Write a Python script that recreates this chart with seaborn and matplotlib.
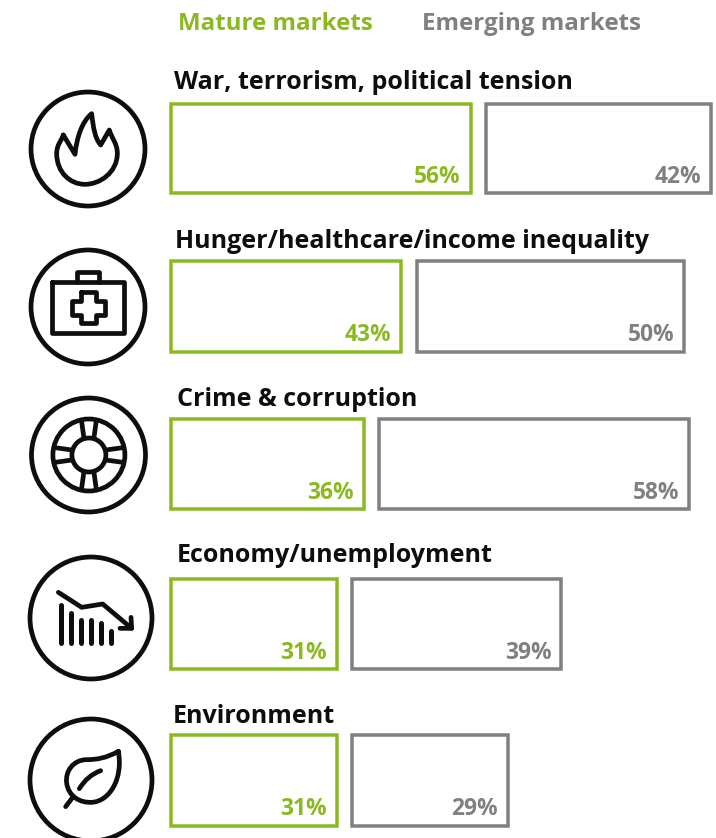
import matplotlib
matplotlib.use("Agg")
import matplotlib.pyplot as plt
from matplotlib.path import Path
from matplotlib.patches import PathPatch, Circle
import numpy as np
import seaborn as sns

categories = ["War, terrorism, political tension", "Hunger/healthcare/income inequality",
              "Crime & corruption", "Economy/unemployment", "Environment"]
mature = [56, 43, 36, 31, 31]
emerging = [42, 50, 58, 39, 29]
series_names = ["Mature markets", "Emerging markets"]

GREEN = "#8ab922"
GRAY = "#808080"
INK = "#0e0e0c"
W, H = 716, 838
PX_PER_PCT = 5.35
GAP = 2.9

sns.set_theme(style="white")
plt.rcParams["font.family"] = ["Open Sans", "DejaVu Sans"]
fig = plt.figure(figsize=(W / 100, H / 100), dpi=100, facecolor="white")

row_tops = [103.7, 261, 418.7, 578.5, 735]
row_bottoms = [193.5, 351.7, 509, 669, 825.7]
title_x = [174, 175, 177, 177, 173]
title_base = [89, 248, 406, 562, 723]
LEFT = 171
pt = 0.72
BAR_LW = 3.5 * pt
LABEL_DX = -9.7 * pt
LABEL_DY = 10.3 * pt

for i, cat in enumerate(categories):
    ax = fig.add_axes([LEFT / W, 1 - row_bottoms[i] / H, (W - LEFT) / W,
                       (row_bottoms[i] - row_tops[i]) / H])
    left = mature[i] + GAP
    sns.barplot(x=[mature[i]], y=[cat], ax=ax, width=1, fill=False, color=GREEN, linewidth=BAR_LW,
                clip_on=False, err_kws={"linewidth": 0})
    for p in ax.patches:
        p.set_edgecolor(GREEN)
    n = len(ax.patches)
    sns.barplot(x=[emerging[i]], y=[cat], ax=ax, width=1, fill=False, color=GRAY,
                linewidth=BAR_LW, clip_on=False, left=left, err_kws={"linewidth": 0})
    for p in ax.patches[n:]:
        p.set_edgecolor(GRAY)
    ax.set_xlim(0, (W - LEFT) / PX_PER_PCT)
    ax.set_ylim(0.5, -0.5)
    ax.axis("off")
    ax.patch.set_alpha(0)
    ax.annotate(f"{mature[i]}%", (mature[i], 0.5), xytext=(LABEL_DX, LABEL_DY),
                textcoords="offset points", ha="right", va="baseline",
                color=GREEN, fontsize=16.4, fontweight="bold")
    ax.annotate(f"{emerging[i]}%", (left + emerging[i], 0.5),
                xytext=(LABEL_DX, LABEL_DY), textcoords="offset points", ha="right",
                va="baseline", color=GRAY, fontsize=16.4, fontweight="bold")

ov = fig.add_axes([0, 0, 1, 1])
ov.set_xlim(0, W)
ov.set_ylim(H, 0)
ov.axis("off")
ov.patch.set_alpha(0)

ov.text(178, 30.5, series_names[0], color=GREEN, fontsize=17.35, fontweight="bold", va="baseline")
ov.text(422, 30.5, series_names[1], color=GRAY, fontsize=17.35, fontweight="bold", va="baseline")
for i, cat in enumerate(categories):
    ov.text(title_x[i], title_base[i], cat, color=INK, fontsize=18, fontweight="bold", va="baseline")

LW = 3.4


def stroke(origin, verts, codes=None, lw=LW, close=False):
    """Draw an icon stroke given in crop coordinates (3x) from an origin."""
    v = [(origin[0] + x / 3, origin[1] + y / 3) for x, y in verts]
    if codes is None:
        codes = [Path.MOVETO] + [Path.LINETO] * (len(v) - 1)
    if close:
        v.append(v[0])
        codes = list(codes) + [Path.CLOSEPOLY]
    ov.add_patch(PathPatch(Path(v, codes), fill=False, edgecolor=INK, lw=lw,
                           capstyle="round", joinstyle="round"))


def bez(start, *segs):
    v, c = [start], [Path.MOVETO]
    for s in segs:
        if len(s) == 2:
            v.append(s)
            c.append(Path.LINETO)
        else:
            v += [s[:2], s[2:4], s[4:6]]
            c += [Path.CURVE4] * 3
    return v, c


for (cx, cy, r) in [(88, 149, 57), (88, 307, 57), (88.5, 455, 57), (91, 618, 61), (91, 780, 61)]:
    ov.add_patch(Circle((cx, cy), r, fill=False, edgecolor=INK, lw=LW))

# flame
o = (20, 85)
v, c = bez((130, 150), (165, 208), (170, 160, 185, 110, 215, 86), (220, 130, 225, 160, 242, 180),
           (268, 135), (275, 160, 292, 175, 292, 205), (292, 262, 240, 298, 195, 298),
           (150, 298, 110, 262, 110, 205), (110, 180, 125, 165, 130, 150))
stroke(o, v, c)

# medical case
o = (20, 240)
stroke(o, [(97, 125), (312, 125), (312, 280), (97, 280), (97, 125)])
stroke(o, [(172, 125), (172, 95), (238, 95), (238, 125)])
stroke(o, [(183, 157), (227, 157), (227, 183), (255, 183), (255, 225), (227, 225), (227, 250),
           (183, 250), (183, 225), (157, 225), (157, 183), (183, 183), (183, 157)])

# lifebuoy
o = (20, 395)
cx, cy = 88.9, 455
for r in (36, 17):
    ov.add_patch(Circle((cx, cy), r, fill=False, edgecolor=INK, lw=LW))
for ang in (0, 90, 180, 270):
    th = np.deg2rad(ang)
    rot = np.array([[np.cos(th), -np.sin(th)], [np.sin(th), np.cos(th)]])
    for a, b in [((-7.5, -35), (-5, -17)), ((7.5, -35), (5, -17))]:
        p, q = rot @ np.array(a), rot @ np.array(b)
        ov.plot([cx + p[0], cx + q[0]], [cy + p[1], cy + q[1]], color=INK, lw=LW,
                solid_capstyle="round")

# falling chart
o = (20, 550)
stroke(o, [(115, 127), (185, 172), (248, 162), (335, 235)])
stroke(o, [(333, 202), (335, 235), (300, 235)])
for x, top in [(122, 165), (153, 190), (182, 210), (212, 210), (242, 220), (272, 243)]:
    stroke(o, [(x, top), (x, 280)], lw=3.6)

# leaf
o = (20, 708)
v, c = bez((295, 130), (260, 150, 230, 155, 200, 155), (160, 155, 135, 190, 140, 225),
           (145, 265, 180, 285, 215, 283), (270, 280, 310, 210, 295, 130))
stroke(o, v, c)
stroke(o, [(137, 296), (158, 268)])
v, c = bez((178, 242), (195, 215, 215, 198, 242, 188))
stroke(o, v, c)

fig.savefig("out.png", dpi=100, facecolor="white")
